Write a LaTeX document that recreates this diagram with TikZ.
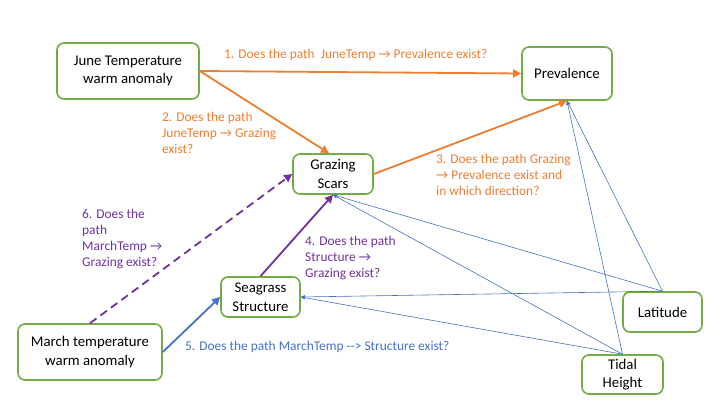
\documentclass[tikz,border=0pt]{standalone}
\usepackage{fontspec}
\setmainfont{Carlito}
\usetikzlibrary{arrows.meta}
\definecolor{boxgreen}{HTML}{70AD47}
\definecolor{qorange}{HTML}{ED7D31}
\definecolor{qpurple}{HTML}{7030A0}
\definecolor{qblue}{HTML}{4472C4}
\begin{document}
\begin{tikzpicture}[x=1pt,y=-1pt,
  box/.style={draw=boxgreen, line width=1.6pt, rounded corners=7pt, fill=white,
    align=center, inner sep=0pt, font=\fontsize{14.8}{18.5}\selectfont},
  qlabel/.style={anchor=west, align=left, inner sep=0pt, font=\fontsize{13.4}{16}\selectfont},
  thick arrow/.style={line width=1.8pt, -{Triangle[length=8pt,width=8pt]}},
  thin arrow/.style={qblue, line width=0.6pt, -{Triangle[length=4pt,width=3.5pt]}}]
\useasboundingbox (0,0) rectangle (720,405);

% variables
\node[box, minimum width=142pt, minimum height=56pt] (june) at (128,71) {June Temperature\\warm anomaly};
\node[box, minimum width=90pt, minimum height=53pt] (prev) at (567,73.5) {Prevalence};
\node[box, minimum width=80pt, minimum height=40pt] (graz) at (333,174) {Grazing\\Scars};
\node[box, minimum width=79pt, minimum height=40pt] (struc) at (260.5,297) {Seagrass\\Structure};
\node[box, minimum width=144pt, minimum height=56pt] (march) at (90,352) {March temperature\\warm anomaly};
\node[box, minimum width=79pt, minimum height=40pt] (lat) at (662.5,312) {Latitude};
\node[box, minimum width=81pt, minimum height=39pt] (tide) at (622.5,374.5) {Tidal\\Height};

% covariates
\draw[thin arrow] (lat.north) -- (prev.south);
\draw[thin arrow] (tide.north) -- (prev.south);
\draw[thin arrow] (lat.north) -- (graz.south);
\draw[thin arrow] (tide.north) -- (graz.south);
\draw[thin arrow] (lat.north) -- (struc.east);
\draw[thin arrow] (tide.north) -- (struc.east);

% questions
\draw[thick arrow, qorange] (june.east) -- (prev.west);
\draw[thick arrow, qorange] (june.east) -- ([xshift=-4pt]graz.north);
\draw[thick arrow, qorange] (graz.east) -- (prev.south);
\draw[thick arrow, qpurple] (struc.north) -- (graz.south);
\draw[thick arrow, qblue] (march.east) -- (struc.west);
\draw[thick arrow, qpurple, dash pattern=on 8pt off 5pt] (march.north) -- (graz.west);

\node[qlabel, text=qorange] (q1) at (224,55) {1. Does the path\ \ JuneTemp → Prevalence exist?};
\node[qlabel, text=qorange] (q2) at (162,133) {2. Does the path\\JuneTemp → Grazing\\exist?};
\node[qlabel, text=qorange] (q3) at (436,175) {3. Does the path Grazing\\→ Prevalence exist and\\in which direction?};
\node[qlabel, text=qpurple] (q4) at (305,258) {4. Does the path\\Structure →\\Grazing exist?};
\node[qlabel, text=qblue] (q5) at (185,347) {5. Does the path MarchTemp -{}-{}> Structure exist?};
\node[qlabel, text=qpurple] (q6) at (82,239) {6. Does the\\path\\MarchTemp →\\Grazing exist?};
\end{tikzpicture}
\end{document}
